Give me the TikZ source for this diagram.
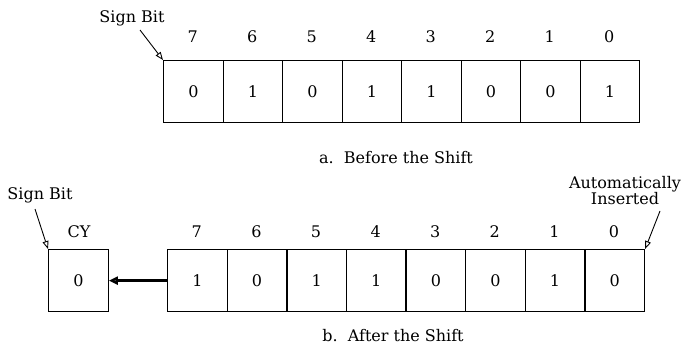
\documentclass[tikz,border=0pt]{standalone}
\usepackage{fontspec}
\setmainfont{DejaVu Serif}
\usetikzlibrary{arrows.meta}
\tikzset{
  cellbox/.style={draw, line width=1.3pt, minimum width=59.6pt, minimum height=62pt, inner sep=0pt, anchor=north west, font=\fontsize{16}{18}\selectfont},
  lbl/.style={inner sep=0pt, font=\fontsize{16}{18}\selectfont},
  captiontext/.style={inner sep=0pt, font=\fontsize{16}{18}\selectfont},
  pointer/.style={line width=0.9pt, -{Triangle[open, length=8pt, width=6pt]}},
  shiftarrow/.style={line width=2.4pt, -{Triangle[fill=gray, length=9pt, width=8pt]}}
}
\begin{document}
\begin{tikzpicture}[x=1pt,y=-1pt]
\useasboundingbox (0,0) rectangle (687,350);
% ---- a. before the shift
\foreach \v [count=\i from 0] in {0,1,0,1,1,0,0,1}{
  \pgfmathtruncatemacro{\b}{7-\i}
  \node[cellbox] (a\b) at ({163+59.5*\i},60) {\v};
  \node[lbl] (al\b) at ({163+59.5*\i+29.75},37) {\b};
}
\node[lbl] (asign) at (132,18) {Sign Bit};
\coordinate (asignstart) at (140,30);
\draw[pointer] (asignstart) -- (a7.north west);
\node[captiontext] (acap) at (396,158) {a.\ \ Before the Shift};
% ---- b. after the shift
\node[cellbox] (cy) at (48,249) {0};
\node[lbl] (cyl) at (79,232) {CY};
\foreach \v [count=\i from 0] in {1,0,1,1,0,0,1,0}{
  \pgfmathtruncatemacro{\b}{7-\i}
  \node[cellbox] (b\b) at ({167+59.6*\i},249) {\v};
  \node[lbl] (bl\b) at ({167+59.6*\i+29.8},232) {\b};
}
\draw[shiftarrow] (b7.west) -- (cy.east);
\node[lbl] (bsign) at (40,195) {Sign Bit};
\coordinate (bsignstart) at (35,209);
\draw[pointer] (bsignstart) -- (cy.north west);
\node[lbl, align=center] (auto) at (625,191) {Automatically\\[-2pt]Inserted};
\coordinate (autostart) at (660,211);
\draw[pointer] (autostart) -- (b0.north east);
\node[captiontext] (bcap) at (393,336) {b.\ \ After the Shift};
\end{tikzpicture}
\end{document}
